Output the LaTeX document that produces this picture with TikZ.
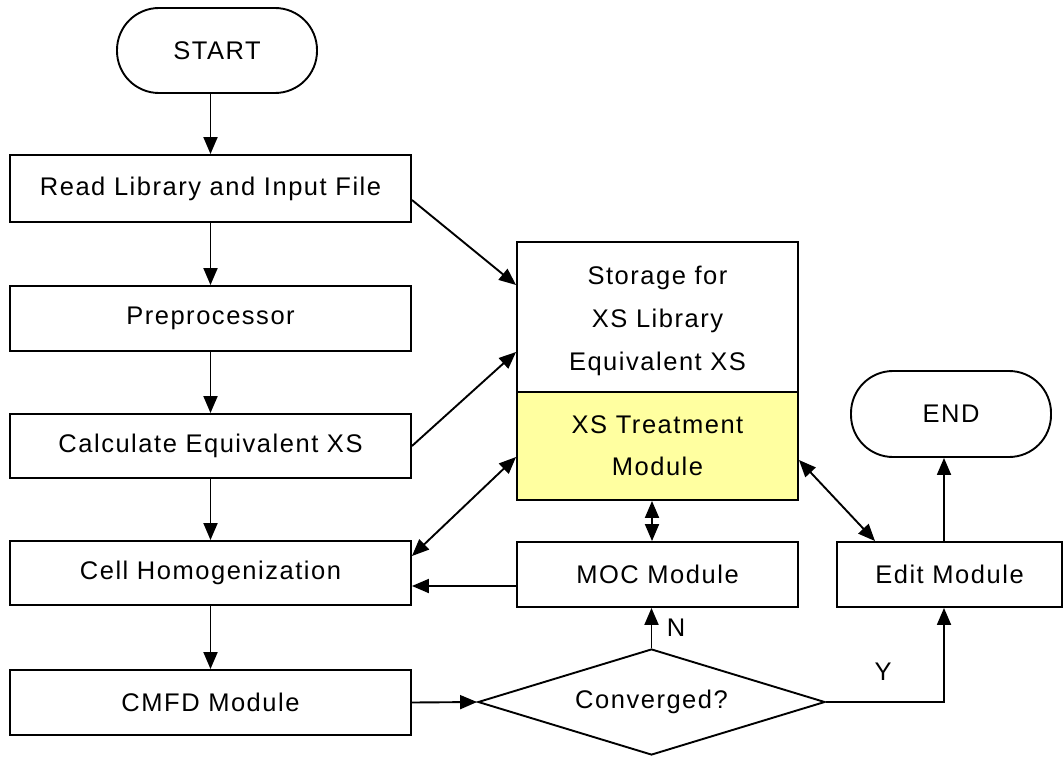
\documentclass[tikz,border=0pt]{standalone}
\usepackage{fontspec}
\setmainfont[LetterSpace=6]{Liberation Sans}
\usetikzlibrary{shapes.geometric,arrows.meta,calc}
\definecolor{xsyellow}{RGB}{255,255,160}
\tikzset{
  base/.style={draw=black, line width=1.9pt, inner sep=0pt, font=\fontsize{25.5}{30}\selectfont},
  procbox/.style={base, rectangle, minimum width=401pt, minimum height=65pt},
  termbox/.style={base, rectangle, rounded corners=42pt, minimum width=200pt, minimum height=85pt},
  decbox/.style={base, diamond, aspect=3.27, minimum width=347pt, minimum height=106pt},
  conn/.style={line width=1.9pt, -{Triangle[length=17pt,width=14pt]}},
  dconn/.style={line width=1.9pt, {Triangle[length=17pt,width=14pt]}-{Triangle[length=17pt,width=14pt]}},
  lbl/.style={font=\fontsize{25.5}{30}\selectfont, inner sep=0pt}
}
\begin{document}
\begin{tikzpicture}[x=1pt,y=-1pt]
\useasboundingbox (0,0) rectangle (1064,765);
% nodes
\node[termbox] (start) at (217,50.5) {START};
\node[procbox, minimum height=67pt] (read) at (210.5,188.5) {Read Library and Input File};
\node[procbox] (pre) at (210.5,318.5) {Preprocessor};
\node[procbox, minimum height=64pt] (calc) at (210.5,446) {Calculate Equivalent XS};
\node[procbox, minimum height=64pt] (cell) at (210.5,573) {Cell Homogenization};
\node[procbox] (cmfd) at (210.5,702.5) {CMFD Module};
\node[base, rectangle, minimum width=281pt, minimum height=150pt, align=center,
      font=\fontsize{25.5}{43}\selectfont] (storage) at (657.5,317) {\rule{0pt}{26pt}Storage for\\XS Library\\Equivalent XS};
\node[base, rectangle, fill=xsyellow, minimum width=281pt, minimum height=108pt, align=center,
      font=\fontsize{25.5}{42}\selectfont] (xst) at (657.5,446) {XS Treatment\\Module};
\node[base, rectangle, minimum width=281pt, minimum height=65pt] (moc) at (657.5,574.5) {MOC Module};
\node[base, rectangle, minimum width=225pt, minimum height=65pt] (edit) at (949.5,574.5) {Edit Module};
\node[termbox, minimum height=86pt] (end) at (951,414) {END};
\node[decbox] (conv) at (651.5,702) {Converged?};
% helper coordinates
\coordinate (editin) at ($(edit.south)+(-5.5,0)$);
\coordinate (editout) at ($(edit.north)+(-5.5,0)$);
\coordinate (mocl) at ($(moc.west)+(0,11.5)$);
% connectors
\draw[conn] (read.north |- start.south) -- (read.north);
\draw[conn] (read.south) -- (pre.north);
\draw[conn] (pre.south) -- (calc.north);
\draw[conn] (calc.south) -- (cell.north);
\draw[conn] (cell.south) -- (cmfd.north);
\draw[conn] ($(read.east)+(0,11.5)$) -- ($(storage.west)+(0,-32)$);
\draw[conn] (calc.east) -- ($(storage.west)+(0,35)$);
\draw[dconn] ($(cell.east)+(0,-17)$) -- ($(xst.west)+(0,11)$);
\draw[conn] (mocl) -- (cell.east |- mocl);
\draw[dconn] ($(xst.south)+(-5.5,0)$) -- ($(moc.north)+(-5.5,0)$);
\draw[dconn] ($(xst.east)+(0,14)$) -- ($(edit.north)+(-74.5,0)$);
\draw[conn] (editout) -- (end.south -| editout);
\draw[conn] (cmfd.east) -- (conv.west);
\draw[conn] (conv.north) -- (moc.south -| conv.north);
\draw[conn] (conv.east) -| (editin);
% labels
\node[lbl] (nlab) at (676,628) {N};
\node[lbl] (ylab) at (883,672) {Y};
\end{tikzpicture}
\end{document}
